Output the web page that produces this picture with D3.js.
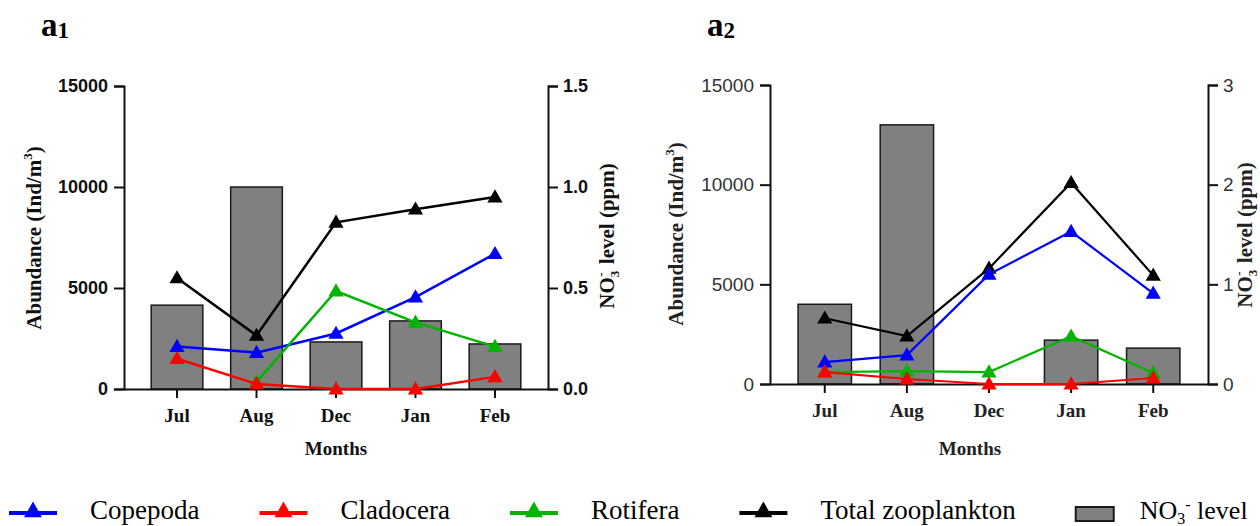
<!DOCTYPE html>
<html>
<head>
<meta charset="utf-8">
<script src="https://cdn.jsdelivr.net/npm/d3@7"></script>
<style>
  body { margin: 0; background: #fff; }
  svg { display: block; }
  .serif { font-family: "Liberation Serif", "Times New Roman", serif; }
  .sans { font-family: "Liberation Sans", Arial, sans-serif; }
</style>
</head>
<body>
<div class="graph"></div>
<script>
"use strict";

var months = ["Jul", "Aug", "Dec", "Jan", "Feb"];

// panel a1 (Ind/m3 and ppm)
var copepodaA1 = [2100, 1800, 2750, 4550, 6700];
var cladoceraA1 = [1500, 250, 0, 0, 600];
var rotiferaA1 = [null, 350, 4850, 3300, 2100];
var totalA1 = [5500, 2650, 8250, 8900, 9500];
var nitrateA1 = [0.415, 1.0, 0.233, 0.337, 0.223];

// panel a2
var copepodaA2 = [1100, 1450, 5500, 7650, 4550];
var cladoceraA2 = [600, 250, 0, 0, 300];
var rotiferaA2 = [600, 650, 600, 2400, 550];
var totalA2 = [3300, 2400, 5800, 10100, 5450];
var nitrateA2 = [0.80, 2.6, 0, 0.44, 0.36];

var leftTicks = [0, 5000, 10000, 15000];
var rightTicksA1 = [0.0, 0.5, 1.0, 1.5];
var rightTicksA2 = [0, 1, 2, 3];

var seriesNames = ["Copepoda", "Cladocera", "Rotifera", "Total zooplankton"];
var seriesColors = ["#0000ff", "#ff0000", "#00b400", "#000000"];

var svg = d3.select('.graph').append('svg')
    .attr('width', 1260)
    .attr('height', 526)

function drawPanel(p) {
    var g = svg.append('g')

    var x = d3.scaleBand()
        .domain(months)
        .range([p.left, p.right])
        .paddingInner(0.35)
        .paddingOuter(0.342)

    var y = d3.scaleLinear()
        .domain([0, 15000])
        .range([p.bottom, p.top])

    var y2 = d3.scaleLinear()
        .domain([0, p.rightMax])
        .range([p.bottom, p.top])

    // bars (NO3 level)
    g.selectAll('rect.bar')
        .data(p.nitrate)
        .enter().append('rect')
        .attr('class', 'bar')
        .attr('x', function(d, i) { return x(months[i]) })
        .attr('width', x.bandwidth())
        .attr('y', function(d) { return y2(d) })
        .attr('height', function(d) { return p.bottom - y2(d) })
        .attr('fill', '#808080')
        .attr('stroke', '#1a1a1a')
        .attr('stroke-width', 1.5)
        .style('display', function(d) { return d > 0 ? null : 'none' })

    // axes
    var yAxis = d3.axisLeft(y).tickValues(leftTicks).tickSize(10).tickPadding(6)
        .tickFormat(d3.format('d'))
    var axL = g.append('g')
        .attr('transform', 'translate(' + p.left + ',0)')
        .call(yAxis)

    var y2Axis = d3.axisRight(y2).tickValues(p.rightTicks).tickSize(10).tickPadding(5)
        .tickFormat(p.rightFormat)
    var axR = g.append('g')
        .attr('transform', 'translate(' + p.right + ',0)')
        .call(y2Axis)

    var xAxis = d3.axisBottom(x).tickSize(9).tickPadding(11).tickSizeOuter(0)
    var axB = g.append('g')
        .attr('transform', 'translate(0,' + p.bottom + ')')
        .call(xAxis)

    ;[axL, axR].forEach(function(a) {
        a.selectAll('text')
            .attr('class', 'sans')
            .attr('font-size', p.tickSize + 'px')
            .attr('font-weight', p.tickWeight)
            .attr('fill', p.tickColor)
        a.select('.domain').attr('stroke', '#111').attr('stroke-width', 2)
        a.selectAll('.tick line').attr('stroke', '#111').attr('stroke-width', 2)
    })
    axB.select('.domain').attr('stroke', '#111').attr('stroke-width', 2)
    axB.selectAll('.tick line').attr('stroke', '#111').attr('stroke-width', 2)
    axB.selectAll('text')
        .attr('class', 'serif')
        .attr('font-size', '19px')
        .attr('font-weight', 'bold')
        .attr('fill', p.monthColor)
        .attr('dy', '0.71em')

    // lines
    var line = d3.line()
        .defined(function(d) { return d != null })
        .x(function(d, i) { return x(months[i]) + x.bandwidth() / 2 })
        .y(function(d) { return y(d) })

    var order = [3, 0, 2, 1];
    order.forEach(function(k) {
        var vals = p.series[k];
        g.append('path')
            .datum(vals)
            .attr('fill', 'none')
            .attr('stroke', seriesColors[k])
            .attr('stroke-width', p.lineWidth)
            .attr('d', line)
        g.selectAll('path.m' + k)
            .data(vals.map(function(v, i) { return {v: v, i: i} }).filter(function(d) { return d.v != null }))
            .enter().append('path')
            .attr('class', 'm' + k)
            .attr('d', d3.symbol(d3.symbolTriangle, 100))
            .attr('transform', function(d) {
                return 'translate(' + (x(months[d.i]) + x.bandwidth() / 2) + ',' + (y(d.v) + 1) + ')'
            })
            .attr('fill', seriesColors[k])
    })

    // panel label
    var pl = svg.append('text')
        .attr('class', 'serif')
        .attr('x', p.labelX)
        .attr('y', 36)
        .attr('font-size', '33px')
        .attr('font-weight', 'bold')
        .text('a')
    pl.append('tspan')
        .attr('font-size', '23px')
        .attr('dy', 2)
        .text(p.labelSub)

    // x title
    svg.append('text')
        .attr('class', 'serif')
        .attr('x', p.monthsX)
        .attr('y', 455)
        .attr('text-anchor', 'middle')
        .attr('font-size', '19px')
        .attr('font-weight', 'bold')
        .attr('fill', p.monthColor)
        .text('Months')

    // left title
    var lt = svg.append('text')
        .attr('class', 'serif')
        .attr('transform', 'translate(' + p.leftTitleX + ',' + p.leftTitleY + ') rotate(-90)')
        .attr('text-anchor', 'middle')
        .attr('font-size', '21px')
        .attr('font-weight', 'bold')
        .attr('fill', p.monthColor)
    lt.append('tspan').text('Abundance (Ind/m')
    lt.append('tspan').attr('font-size', '13px').attr('dy', -9).text('3')
    lt.append('tspan').attr('dy', 9).text(')')

    // right title
    var rt = svg.append('text')
        .attr('class', 'serif')
        .attr('transform', 'translate(' + p.rightTitleX + ',' + p.rightTitleY + ') rotate(-90)')
        .attr('text-anchor', 'middle')
        .attr('font-size', '21px')
        .attr('font-weight', 'bold')
        .attr('fill', p.monthColor)
    rt.append('tspan').text('NO')
    rt.append('tspan').attr('font-size', '13px').attr('dy', 5).text('3')
    rt.append('tspan').attr('font-size', '13px').attr('dy', -14).attr('dx', -6).text('-')
    rt.append('tspan').attr('dy', 9).attr('dx', 3).text(' level (ppm)')
}

drawPanel({
    left: 124, right: 548, top: 86, bottom: 389,
    rightMax: 1.5, rightTicks: rightTicksA1, rightFormat: d3.format('.1f'),
    nitrate: nitrateA1,
    series: [copepodaA1, cladoceraA1, rotiferaA1, totalA1],
    tickSize: 18, tickWeight: 'bold', tickColor: '#111', monthColor: '#111',
    lineWidth: 2.5,
    labelX: 41, labelSub: '1',
    monthsX: 336,
    leftTitleX: 41, leftTitleY: 238,
    rightTitleX: 614, rightTitleY: 236
})

drawPanel({
    left: 770, right: 1208, top: 85, bottom: 384,
    rightMax: 3, rightTicks: rightTicksA2, rightFormat: d3.format('d'),
    nitrate: nitrateA2,
    series: [copepodaA2, cladoceraA2, rotiferaA2, totalA2],
    tickSize: 19, tickWeight: 'normal', tickColor: '#333', monthColor: '#222',
    lineWidth: 2.2,
    labelX: 707, labelSub: '2',
    monthsX: 970,
    leftTitleX: 683, leftTitleY: 234,
    rightTitleX: 1252, rightTitleY: 235
})

// legend
var legend = svg.append('g').attr('transform', 'translate(0,513)')
var lx = 9;
seriesNames.forEach(function(name, k) {
    legend.append('line')
        .attr('x1', lx).attr('x2', lx + 48)
        .attr('stroke', seriesColors[k])
        .attr('stroke-width', 4)
    legend.append('path')
        .attr('d', d3.symbol(d3.symbolTriangle, 140))
        .attr('transform', 'translate(' + (lx + 24) + ',-1)')
        .attr('fill', seriesColors[k])
    var t = legend.append('text')
        .attr('class', 'serif')
        .attr('x', lx + 81)
        .attr('y', 6)
        .attr('font-size', '27px')
        .text(name)
    lx = lx + 81 + t.node().getComputedTextLength() + 60
})
legend.append('rect')
    .attr('x', lx).attr('y', -6)
    .attr('width', 38).attr('height', 14)
    .attr('fill', '#808080')
    .attr('stroke', '#1a1a1a')
    .attr('stroke-width', 2)
var nt = legend.append('text')
    .attr('class', 'serif')
    .attr('x', lx + 64)
    .attr('y', 6)
    .attr('font-size', '26px')
nt.append('tspan').text('NO')
nt.append('tspan').attr('font-size', '16px').attr('dy', 5).text('3')
nt.append('tspan').attr('font-size', '16px').attr('dy', -14).text('-')
nt.append('tspan').attr('dy', 9).text(' level')
</script>
</body>
</html>
